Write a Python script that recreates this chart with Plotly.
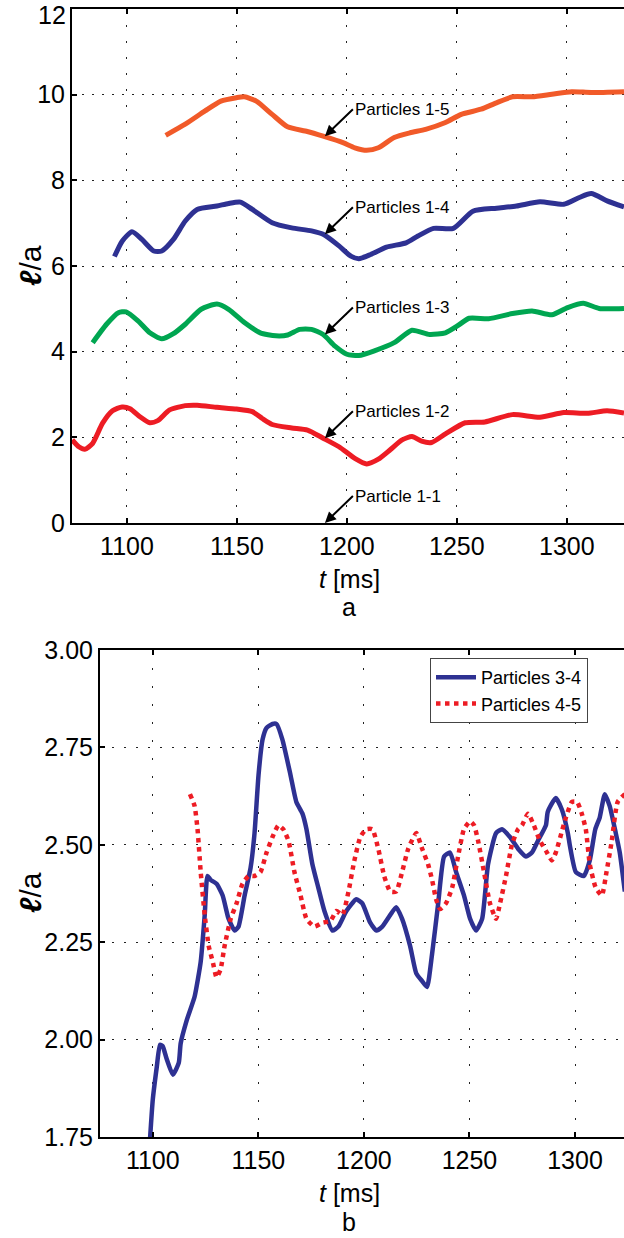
import plotly.graph_objects as go

# ---------------- Panel a data ----------------
t_15 = [1117.6, 1126.5, 1135.5, 1142.7, 1149.8, 1153.4, 1158.8, 1166.0, 1173.0, 1182.0, 1189.2, 1198.2,
        1203.6, 1209.0, 1214.3, 1221.5, 1228.7, 1235.8, 1244.8, 1252.0, 1261.0, 1268.0, 1275.3, 1284.2,
        1293.2, 1302.2, 1311.1, 1326.0]
v_15 = [9.05, 9.31, 9.62, 9.85, 9.93, 9.95, 9.85, 9.54, 9.25, 9.14, 9.03, 8.88,
        8.76, 8.70, 8.76, 9.00, 9.11, 9.19, 9.35, 9.54, 9.66, 9.81, 9.95, 9.95,
        10.01, 10.07, 10.05, 10.07]

t_14 = [1094.3, 1097.8, 1102.3, 1106.8, 1112.2, 1115.8, 1121.1, 1126.5, 1131.9, 1140.9, 1146.2, 1151.6,
        1157.0, 1166.0, 1174.9, 1183.9, 1189.2, 1196.4, 1201.8, 1205.4, 1210.8, 1218.0, 1226.9, 1232.3,
        1239.4, 1248.4, 1257.3, 1268.1, 1277.1, 1287.8, 1298.6, 1305.7, 1311.1, 1318.3, 1326.0]
v_14 = [6.22, 6.58, 6.80, 6.62, 6.35, 6.35, 6.62, 7.05, 7.32, 7.40, 7.46, 7.49,
        7.32, 7.01, 6.89, 6.82, 6.74, 6.47, 6.23, 6.17, 6.27, 6.44, 6.54, 6.70,
        6.88, 6.88, 7.28, 7.35, 7.40, 7.50, 7.44, 7.60, 7.69, 7.52, 7.38]

t_13 = [1084.4, 1090.7, 1096.1, 1099.6, 1105.0, 1110.4, 1115.8, 1121.1, 1126.5, 1133.7, 1140.9, 1146.2,
        1153.4, 1160.6, 1167.7, 1173.1, 1178.5, 1183.9, 1189.2, 1194.6, 1200.0, 1205.4, 1212.5, 1221.5,
        1229.6, 1237.6, 1244.8, 1250.2, 1255.6, 1264.5, 1275.3, 1284.2, 1293.2, 1300.4, 1307.5, 1314.7,
        1326.0]
v_13 = [4.21, 4.64, 4.91, 4.93, 4.72, 4.44, 4.30, 4.42, 4.64, 4.99, 5.11, 4.99,
        4.68, 4.44, 4.37, 4.39, 4.52, 4.52, 4.40, 4.13, 3.94, 3.91, 4.02, 4.21,
        4.50, 4.40, 4.44, 4.60, 4.78, 4.77, 4.89, 4.95, 4.86, 5.03, 5.13, 5.01,
        5.01]

t_12 = [1075.1, 1078.1, 1080.8, 1084.4, 1088.9, 1093.4, 1097.8, 1101.4, 1105.9, 1110.4, 1114.0, 1119.4,
        1126.5, 1131.9, 1140.9, 1149.8, 1157.0, 1161.5, 1166.0, 1174.9, 1182.1, 1189.2, 1196.4, 1203.6,
        1209.0, 1214.3, 1219.7, 1225.1, 1229.6, 1234.0, 1238.5, 1244.8, 1253.8, 1262.7, 1275.3, 1287.8,
        1298.6, 1309.3, 1318.3, 1326.0]
v_12 = [1.94, 1.78, 1.72, 1.86, 2.33, 2.62, 2.71, 2.67, 2.48, 2.34, 2.39, 2.64,
        2.74, 2.75, 2.70, 2.66, 2.60, 2.44, 2.30, 2.22, 2.17, 1.98, 1.78, 1.51,
        1.38, 1.49, 1.71, 1.94, 2.02, 1.91, 1.88, 2.08, 2.34, 2.36, 2.53, 2.47,
        2.58, 2.56, 2.62, 2.57]

labels_a = ["Particles 1-5", "Particles 1-4", "Particles 1-3", "Particles 1-2", "Particle 1-1"]
arrow_t = 1190
arrow_v = [9.03, 6.74, 4.40, 1.98, 0.0]

xticks = [1100, 1150, 1200, 1250, 1300]
yticks_a = [0, 2, 4, 6, 8, 10, 12]
yticklabels_a = ["0", "2", "4", "6", "8", "10", ""]   # top label "12" drawn separately below
top_label_a = "12"
yticks_b = [1.75, 2.00, 2.25, 2.50, 2.75, 3.00]

# ---------------- Panel b data ----------------
t_34 = [1098.4, 1100.0, 1101.9, 1103.4, 1104.7, 1106.6, 1109.5, 1112.3, 1113.2, 1116.1, 1119.8, 1122.7,
        1124.6, 1125.9, 1127.4, 1130.2, 1133.1, 1135.9, 1138.8, 1140.6, 1143.5, 1146.3, 1148.2, 1150.1,
        1152.0, 1153.9, 1156.7, 1158.6, 1161.4, 1165.2, 1168.0, 1170.9, 1172.8, 1175.6, 1178.4, 1181.3,
        1185.1, 1187.9, 1191.7, 1196.4, 1199.2, 1203.0, 1205.9, 1208.7, 1212.5, 1215.3, 1218.1, 1221.9,
        1224.8, 1227.6, 1229.9, 1232.3, 1235.2, 1238.0, 1240.8, 1243.7, 1247.4, 1250.3, 1253.1, 1256.0,
        1258.8, 1262.6, 1265.4, 1269.2, 1273.0, 1276.8, 1279.6, 1282.4, 1286.2, 1287.1, 1290.9, 1293.8,
        1296.6, 1297.5, 1300.4, 1304.2, 1307.0, 1309.6, 1311.7, 1314.1, 1316.4, 1319.3, 1321.2, 1323.6]
v_34 = [1.72, 1.846, 1.93, 1.987, 1.983, 1.95, 1.91, 1.94, 1.99, 2.05, 2.11, 2.20,
        2.32, 2.42, 2.41, 2.40, 2.37, 2.31, 2.28, 2.29, 2.37, 2.44, 2.53, 2.68,
        2.77, 2.80, 2.81, 2.81, 2.77, 2.68, 2.61, 2.58, 2.54, 2.45, 2.39, 2.33,
        2.28, 2.29, 2.33, 2.36, 2.35, 2.30, 2.28, 2.29, 2.32, 2.34, 2.31, 2.24,
        2.17, 2.15, 2.135, 2.22, 2.35, 2.47, 2.48, 2.43, 2.37, 2.31, 2.28, 2.31,
        2.45, 2.53, 2.54, 2.52, 2.49, 2.47, 2.48, 2.51, 2.55, 2.585, 2.62, 2.59,
        2.53, 2.50, 2.43, 2.42, 2.46, 2.54, 2.57, 2.63, 2.60, 2.53, 2.48, 2.38]

t_45 = [1117.6, 1119.8, 1121.2, 1122.7, 1124.6, 1126.5, 1128.4, 1130.2, 1132.1, 1134.0, 1136.9, 1139.7,
        1142.5, 1145.4, 1148.2, 1151.0, 1153.9, 1156.7, 1159.5, 1161.8, 1164.3, 1167.1, 1170.0, 1172.8,
        1176.6, 1180.4, 1184.2, 1187.0, 1189.8, 1192.7, 1195.5, 1198.3, 1201.1, 1204.0, 1206.8, 1209.6,
        1212.5, 1215.3, 1218.1, 1221.0, 1224.8, 1227.6, 1230.4, 1232.3, 1234.2, 1236.1, 1238.9, 1241.8,
        1244.6, 1247.4, 1250.3, 1252.2, 1254.1, 1256.9, 1259.7, 1262.6, 1264.5, 1267.3, 1270.1, 1273.0,
        1274.9, 1277.7, 1280.5, 1283.4, 1286.2, 1289.0, 1290.9, 1293.8, 1295.7, 1298.5, 1301.0, 1303.2,
        1305.1, 1307.0, 1309.8, 1312.7, 1314.9, 1317.4, 1320.2, 1323.6]
v_45 = [2.63, 2.60, 2.54, 2.43, 2.32, 2.24, 2.20, 2.16, 2.18, 2.24, 2.31, 2.35,
        2.40, 2.42, 2.42, 2.43, 2.48, 2.52, 2.55, 2.54, 2.51, 2.43, 2.37, 2.31,
        2.29, 2.30, 2.305, 2.33, 2.32, 2.38, 2.46, 2.52, 2.54, 2.54, 2.49, 2.42,
        2.38, 2.38, 2.43, 2.49, 2.53, 2.49, 2.45, 2.41, 2.36, 2.335, 2.35, 2.39,
        2.47, 2.54, 2.56, 2.55, 2.51, 2.43, 2.35, 2.31, 2.35, 2.42, 2.50, 2.54,
        2.55, 2.58, 2.55, 2.51, 2.485, 2.46, 2.48, 2.535, 2.57, 2.61, 2.61, 2.58,
        2.54, 2.45, 2.39, 2.37, 2.43, 2.51, 2.61, 2.63]

# ---------------- Styling ----------------
FONT = "Liberation Sans, Arial, Helvetica, sans-serif"
W, H = 624, 1238
TICK_SIZE = 25

fig = go.Figure()

curves_a = [
    (t_15, v_15, "rgb(241,90,41)", "Particles 1-5"),
    (t_14, v_14, "rgb(46,49,146)", "Particles 1-4"),
    (t_13, v_13, "rgb(0,166,81)", "Particles 1-3"),
    (t_12, v_12, "rgb(237,28,36)", "Particles 1-2"),
]
for tx, vy, col, nm in curves_a:
    fig.add_trace(go.Scatter(x=tx, y=vy, mode="lines", name=nm, showlegend=False,
                             line=dict(color=col, width=5, shape="spline", smoothing=0.6),
                             xaxis="x", yaxis="y"))

fig.add_trace(go.Scatter(x=t_34, y=v_34, mode="lines", name="Particles 3-4",
                         line=dict(color="rgb(46,49,146)", width=4.5, shape="spline", smoothing=0.5),
                         xaxis="x2", yaxis="y2"))
fig.add_trace(go.Scatter(x=t_45, y=v_45, mode="lines", name="Particles 4-5",
                         line=dict(color="rgb(237,28,36)", width=4.5, dash="dot", shape="spline", smoothing=0.5),
                         xaxis="x2", yaxis="y2"))

# invisible helpers so top-border axes are drawn
fig.add_trace(go.Scatter(x=[1200], y=[6], mode="markers", marker=dict(opacity=0), showlegend=False,
                         hoverinfo="skip", xaxis="x3", yaxis="y"))
fig.add_trace(go.Scatter(x=[1200], y=[2.5], mode="markers", marker=dict(opacity=0), showlegend=False,
                         hoverinfo="skip", xaxis="x4", yaxis="y2"))

dom_a_y = [1 - 523 / H, 1 - 9 / H]
dom_b_y = [1 - 1137 / H, 1 - 650 / H]
dom_a_x = [72 / W, 1]
dom_b_x = [100 / W, 1]
range_a = [1075, 1326]
range_b = [1075, 1323.2]

common_x = dict(tickvals=xticks, ticks="inside", ticklen=5, tickwidth=1.5, tickcolor="black",
                showline=True, linecolor="black", linewidth=2, zeroline=False, automargin=False,
                ticklabeloverflow="allow",
                tickfont=dict(size=TICK_SIZE, color="black", family=FONT),
                showgrid=True, gridcolor="#222", gridwidth=1)
common_y = dict(ticks="inside", ticklen=5, tickwidth=1.5, tickcolor="black",
                showline=True, linecolor="black", linewidth=2, zeroline=False, automargin=False,
                ticklabeloverflow="allow",
                tickfont=dict(size=TICK_SIZE, color="black", family=FONT),
                showgrid=True, gridcolor="#222", gridwidth=1)
top_x = dict(side="top", tickvals=xticks, ticks="inside", ticklen=5, tickwidth=1.5, tickcolor="black",
             showline=True, linecolor="black", linewidth=2, showticklabels=False, showgrid=False,
             zeroline=False, automargin=False)

fig.update_layout(
    width=W, height=H,
    margin=dict(l=0, r=0, t=0, b=0, autoexpand=False),
    paper_bgcolor="white", plot_bgcolor="white",
    font=dict(family=FONT, color="black"),
    xaxis=dict(domain=dom_a_x, anchor="y", range=range_a, griddash="2px,14px",
               ticklabelstandoff=0, **common_x),
    yaxis=dict(domain=dom_a_y, anchor="x", range=[0, 12], tickvals=yticks_a, ticktext=yticklabels_a,
               griddash="2px,8px", **common_y),
    xaxis2=dict(domain=dom_b_x, anchor="y2", range=range_b, griddash="2px,16px",
                ticklabelstandoff=0, **common_x),
    yaxis2=dict(domain=dom_b_y, anchor="x2", range=[1.75, 3.0], tickvals=yticks_b, tickformat=".2f",
                griddash="2px,10px", **common_y),
    xaxis3=dict(domain=dom_a_x, anchor="y", overlaying="x", range=range_a, **top_x),
    xaxis4=dict(domain=dom_b_x, anchor="y2", overlaying="x2", range=range_b, **top_x),
    legend=dict(x=430 / W, y=1 - 658 / H, xanchor="left", yanchor="top", bgcolor="white",
                bordercolor="#444", borderwidth=1, font=dict(size=18, family=FONT, color="black"),
                itemwidth=40, tracegroupgap=2),
    showlegend=True,
)

annotations = []
for lab, val in zip(labels_a, arrow_v):
    annotations.append(dict(x=arrow_t, y=val, xref="x", yref="y", text=lab, showarrow=True,
                            ax=28, ay=-27, xanchor="left", yanchor="middle",
                            arrowhead=2, arrowsize=1.1, arrowwidth=2, arrowcolor="black",
                            font=dict(size=17, family=FONT, color="black")))

def txt(x, y, s, size, angle=0, xanchor="center"):
    return dict(x=x / W, y=1 - y / H, xref="paper", yref="paper", text=s, showarrow=False,
                textangle=angle, xanchor=xanchor, yanchor="middle",
                font=dict(size=size, family=FONT, color="black"))

annotations += [
    txt(68, 15, top_label_a, TICK_SIZE, 0, "right"),
    txt(30, 266, "<i><b>ℓ</b></i>/a", 30, -90),
    txt(30, 893, "<i><b>ℓ</b></i>/a", 30, -90),
    txt(349, 579, "<i>t</i> [ms]", 25),
    txt(349, 607, "a", 25),
    txt(349, 1193, "<i>t</i> [ms]", 25),
    txt(349, 1222, "b", 25),
]
fig.update_layout(annotations=annotations)

fig.write_html("out.html", config={"displayModeBar": False},
               post_script="document.body.style.margin='0';document.body.style.overflow='hidden';")
